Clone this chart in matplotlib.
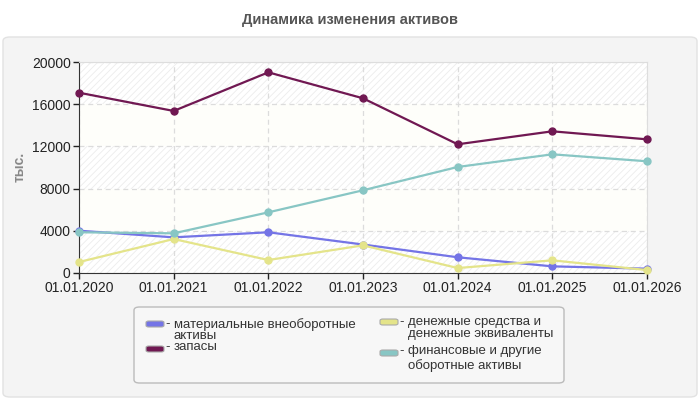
import matplotlib.pyplot as plt
from matplotlib.patches import FancyBboxPatch

# Data (тыс.)
dates = ['01.01.2020', '01.01.2021', '01.01.2022', '01.01.2023',
         '01.01.2024', '01.01.2025', '01.01.2026']
tangible = [4010, 3380, 3860, 2700, 1490, 630, 410]
inventory = [17090, 15360, 19020, 16560, 12200, 13430, 12670]
cash = [1040, 3220, 1230, 2620, 470, 1200, 280]
financial = [3860, 3760, 5750, 7840, 10050, 11250, 10590]
yticks = [0, 4000, 8000, 12000, 16000, 20000]

series = [
    ('материальные внеоборотные\nактивы', tangible, '#7474e6'),
    ('запасы', inventory, '#701852'),
    ('денежные средства и\nденежные эквиваленты', cash, '#e4e48a'),
    ('финансовые и другие\nоборотные активы', financial, '#88c6c4'),
]

plt.rcParams['font.family'] = ['Liberation Sans', 'DejaVu Sans']
plt.rcParams['hatch.linewidth'] = 0.6

W, H = 700, 400
fig = plt.figure(figsize=(7, 4), dpi=100, facecolor='white')


def px(x, y):
    return x / W, 1 - y / H


# grey panel below the title
panel = FancyBboxPatch(px(3, 397), (697 - 3) / W, (397 - 37) / H,
                       boxstyle='round,pad=0,rounding_size=0.01',
                       transform=fig.transFigure, facecolor='#f4f4f4',
                       edgecolor='#e2e2e2', linewidth=1, zorder=-10)
fig.patches.append(panel)

fig.text(0.5, px(0, 20)[1], 'Динамика изменения активов', ha='center',
         va='center', fontsize=10.5, fontweight='bold', color='#555555')

x0, y0 = px(79, 273)
ax = fig.add_axes([x0, y0, (647 - 79) / W, (273 - 62) / H])
ax.set_facecolor('white')

# alternating hatched / cream bands
for i in range(len(yticks) - 1):
    lo, hi = yticks[i], yticks[i + 1]
    if i % 2 == 0:
        ax.axhspan(lo, hi, facecolor='white', edgecolor='#ececec',
                   hatch='/////', linewidth=0, zorder=0)
    else:
        ax.axhspan(lo, hi, facecolor='#fefefa', linewidth=0, zorder=0)

xs = list(range(len(dates)))
for label, vals, color in series:
    ax.plot(xs, vals, color=color, linewidth=1.6, marker='o', markersize=5,
            clip_on=False, zorder=3)

ax.set_xlim(0, len(dates) - 1)
ax.set_ylim(0, 20000)
ax.set_xticks(xs)
ax.set_xticklabels(dates)
ax.set_yticks(yticks)
ax.tick_params(labelsize=10, colors='#222222', length=4, width=1, pad=2)
ax.grid(True, color='#dcdcdc', linestyle=(0, (4, 3)), linewidth=0.9, zorder=1)
ax.set_axisbelow(True)
for side in ['top', 'right']:
    ax.spines[side].set_color('#dddddd')
for side in ['left', 'bottom']:
    ax.spines[side].set_color('#333333')

fig.text(px(20, 0)[0], px(0, 167)[1], 'тыс.', rotation=90, ha='center',
         va='center', fontsize=10, fontweight='bold', color='#888888')

# legend drawn by hand
box = FancyBboxPatch(px(134, 383), (564 - 134) / W, (383 - 307) / H,
                     boxstyle='round,pad=0,rounding_size=0.008',
                     transform=fig.transFigure, facecolor='#f7f7f7',
                     edgecolor='#bbbbbb', linewidth=1, zorder=1)
fig.patches.append(box)

# handle x, handle y, text x, text top y, line spacing
entries = [
    (146, 324, 168, 318, 0.95),
    (146, 349, 168, 341, 0.95),
    (380, 322, 402, 316, 0.95),
    (380, 353, 402, 345, 1.25),
]
for (hx, hy, tx, ty, ls), (label, vals, color) in zip(entries, series):
    h = FancyBboxPatch(px(hx, hy + 3), 18 / W, 6 / H,
                       boxstyle='round,pad=0,rounding_size=0.004',
                       transform=fig.transFigure, facecolor=color,
                       edgecolor='#aaaaaa', linewidth=0.8, zorder=2)
    fig.patches.append(h)
    fig.text(*px(tx, ty), '-', ha='center', va='top',
             fontsize=9.5, color='#333333')
    fig.text(*px(tx + 6, ty), label, ha='left', va='top', linespacing=ls,
             fontsize=9.5, color='#333333')

fig.savefig('out.png', dpi=100, facecolor='white')
